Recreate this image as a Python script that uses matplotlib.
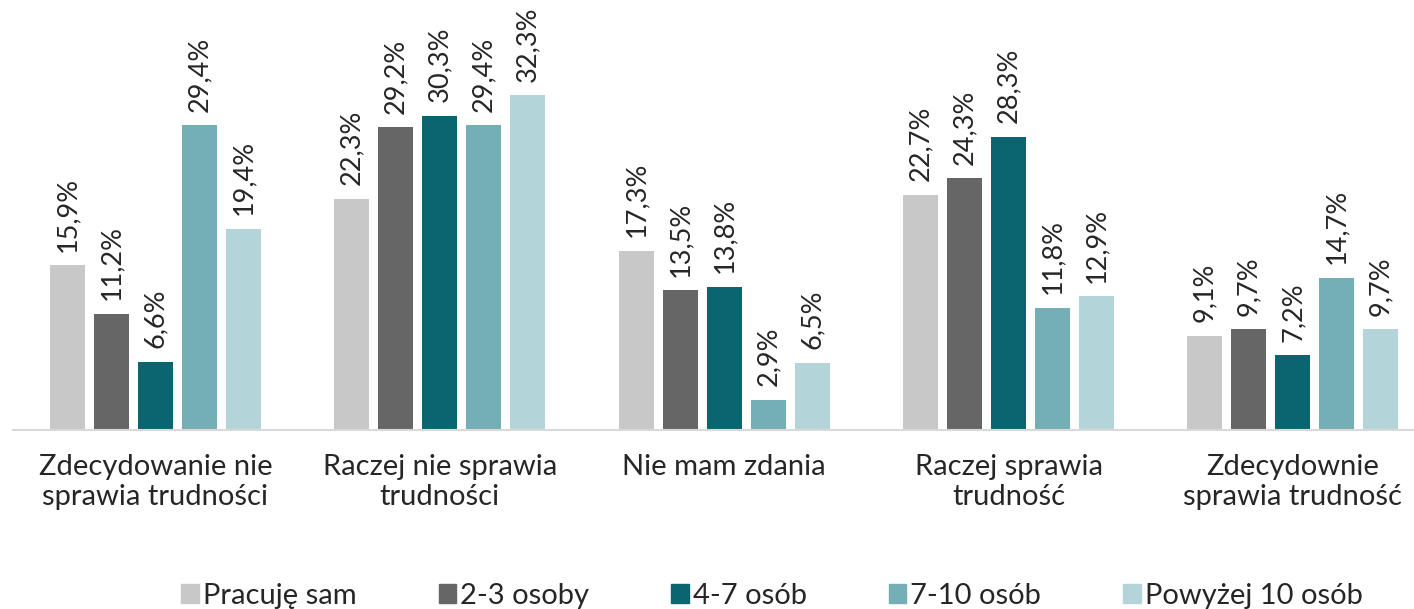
import numpy as np
import matplotlib.pyplot as plt
from matplotlib.patches import Patch

# kategorie odpowiedzi
categories = ["Zdecydowanie nie\nsprawia trudności", "Raczej nie sprawia\ntrudności",
              "Nie mam zdania", "Raczej sprawia\ntrudność", "Zdecydownie\nsprawia trudność"]

series = ["Pracuję sam", "2-3 osoby", "4-7 osób", "7-10 osób", "Powyżej 10 osób"]

pracuje_sam = [15.9, 22.3, 17.3, 22.7, 9.1]
osoby_2_3 = [11.2, 29.2, 13.5, 24.3, 9.7]
osob_4_7 = [6.6, 30.3, 13.8, 28.3, 7.2]
osob_7_10 = [29.4, 29.4, 2.9, 11.8, 14.7]
powyzej_10 = [19.4, 32.3, 6.5, 12.9, 9.7]

values = [pracuje_sam, osoby_2_3, osob_4_7, osob_7_10, powyzej_10]
colors = ["#c8c8c8", "#666666", "#0a6570", "#74afb5", "#b3d5da"]

plt.rcParams['font.family'] = ['Lato', 'DejaVu Sans']

fig = plt.figure(figsize=(14.14, 6.09), dpi=100)
ax = fig.add_axes([0.0094, 0.294, 0.9906, 0.681])

x = np.arange(len(categories))
step = 0.1547
width = 0.123

for i, (name, vals) in enumerate(zip(series, values)):
    pos = x + (i - 2) * step
    bars = ax.bar(pos, vals, width=width, color=colors[i], label=name)
    for b, v in zip(bars, vals):
        ax.text(b.get_x() + b.get_width() / 2, v + 1.3, f"{v:.1f}%".replace(".", ","),
                rotation=90, ha="center", va="bottom", fontsize=19.5, color="#262626")

ax.set_xlim(-0.5, 4.426)
ax.set_ylim(0, 40)
ax.set_yticks([])
ax.set_xticks(x)
ax.set_xticklabels(categories, fontsize=21, color="#262626", linespacing=1.2)
ax.tick_params(axis="x", length=0, pad=17)
for s in ["top", "right", "left"]:
    ax.spines[s].set_visible(False)
ax.spines["bottom"].set_color("#d9d9d9")
ax.spines["bottom"].set_linewidth(1.5)

handles = [Patch(color=c) for c in colors]
fig.legend(handles, series, loc="center", bbox_to_anchor=(0.546, 0.022), ncol=5,
           frameon=False, fontsize=21, handlelength=0.6, handleheight=0.6,
           handletextpad=0.15, columnspacing=2.8, labelcolor="#262626")

fig.savefig("out.png", dpi=100)
